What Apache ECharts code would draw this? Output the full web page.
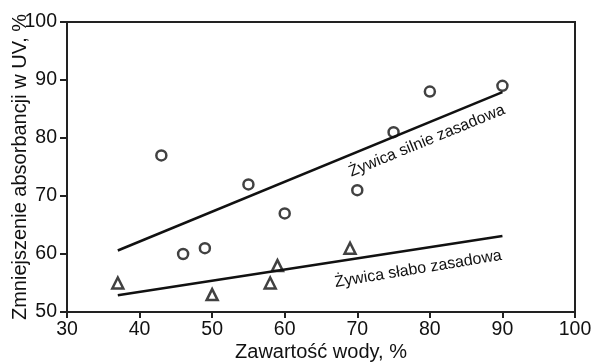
<!DOCTYPE html>
<html><head><meta charset="utf-8">
<script src="https://cdn.jsdelivr.net/npm/echarts@6/dist/echarts.min.js"></script>
<style>html,body{margin:0;padding:0;background:#fff}#c{width:592px;height:363px}</style>
</head><body><div id="c"></div>
<script>
const xTitle = 'Zawartość wody, %';
const yTitle = 'Zmniejszenie absorbancji w UV, %';
const strongX = [43, 46, 49, 55, 60, 70, 75, 80, 90];
const strongY = [77, 60, 61, 72, 67, 71, 81, 88, 89];
const weakX = [37, 50, 58, 59, 69];
const weakY = [55, 53, 55, 58, 61];
const strongLineX = [37, 90];
const strongLineY = [60.6, 87.9];
const weakLineX = [37, 90];
const weakLineY = [52.9, 63.1];
const strongLabel = 'Żywica silnie zasadowa';
const weakLabel = 'Żywica słabo zasadowa';
const strongLabelAt = [79.6, 79.5];
const weakLabelAt = [78.4, 57.4];

const zip = (a, b) => a.map((v, i) => [v, b[i]]);
const FONT = '"Liberation Sans", Arial, sans-serif';
const INK = '#111';
const chart = echarts.init(document.getElementById('c'));
chart.setOption({
  animation: false,
  backgroundColor: '#fff',
  grid: {left: 67, right: 17, top: 22, bottom: 51, containLabel: false, outerBoundsMode: 'none',
         show: true, borderColor: '#222', borderWidth: 2},
  xAxis: {
    type: 'value', min: 30, max: 100, interval: 10,
    name: xTitle, nameLocation: 'middle', nameGap: 30, nameMoveOverlap: false,
    nameTextStyle: {fontFamily: FONT, fontSize: 20, color: INK},
    axisLine: {show: true, lineStyle: {color: '#222', width: 2}},
    axisTick: {show: true, inside: false, length: 6, lineStyle: {color: '#222', width: 2}},
    splitLine: {show: false},
    axisLabel: {fontFamily: FONT, fontSize: 19.5, color: INK, margin: 8}
  },
  yAxis: {
    type: 'value', min: 50, max: 100, interval: 10,
    name: yTitle, nameLocation: 'middle', nameGap: 37, nameMoveOverlap: false,
    nameTextStyle: {fontFamily: FONT, fontSize: 20, color: INK},
    axisLine: {show: true, lineStyle: {color: '#222', width: 2}},
    axisTick: {show: true, inside: false, length: 7, lineStyle: {color: '#222', width: 2}},
    splitLine: {show: false},
    axisLabel: {fontFamily: FONT, fontSize: 19.5, color: INK, margin: 10}
  },
  series: [
    {type: 'line', data: zip(strongLineX, strongLineY), symbol: 'none', lineStyle: {color: INK, width: 2.5}},
    {type: 'line', data: zip(weakLineX, weakLineY), symbol: 'none', lineStyle: {color: INK, width: 2.5}},
    {type: 'scatter', data: zip(strongX, strongY), symbol: 'circle', symbolSize: 10,
     itemStyle: {color: '#fff', borderColor: INK, borderWidth: 2.5}},
    {type: 'scatter', data: zip(weakX, weakY), symbol: 'triangle', symbolSize: 11,
     itemStyle: {color: '#fff', borderColor: INK, borderWidth: 2.5}}
  ]
});
const p1 = chart.convertToPixel({gridIndex: 0}, strongLabelAt);
const p2 = chart.convertToPixel({gridIndex: 0}, weakLabelAt);
chart.setOption({
  graphic: [
    {type: 'text', x: p1[0], y: p1[1], rotation: 22.3 * Math.PI / 180,
     style: {text: strongLabel, font: '16px ' + FONT, fill: INK, align: 'center', verticalAlign: 'middle'}},
    {type: 'text', x: p2[0], y: p2[1], rotation: 9.3 * Math.PI / 180,
     style: {text: weakLabel, font: '16px ' + FONT, fill: INK, align: 'center', verticalAlign: 'middle'}}
  ]
});
</script></body></html>
